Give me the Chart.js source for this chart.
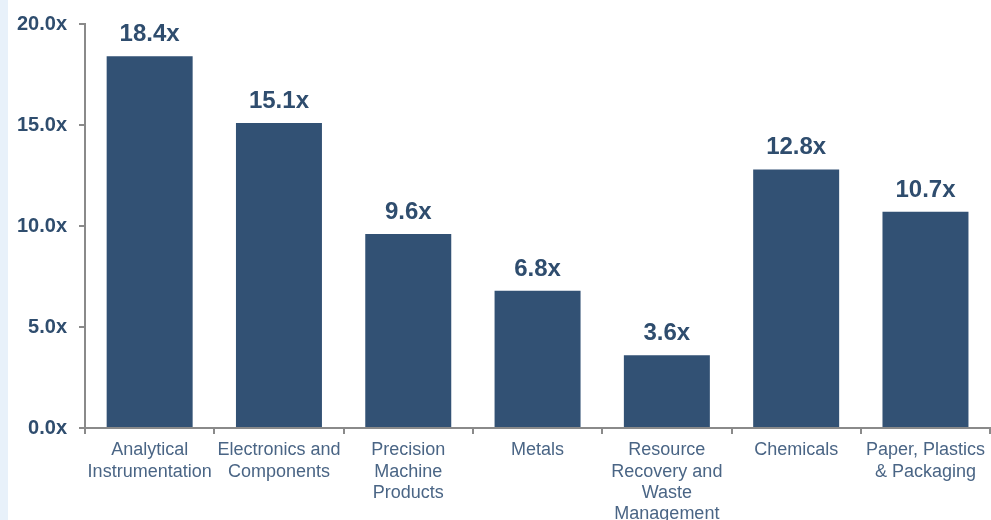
<!DOCTYPE html>
<html>
<head>
<meta charset="utf-8">
<script src="https://cdn.jsdelivr.net/npm/chart.js@4.4.0/dist/chart.umd.min.js"></script>
<style>
  html, body { margin: 0; padding: 0; background: #fff; }
  #wrap { position: relative; width: 991px; height: 520px; }
  #strip { position: absolute; left: 0; top: 0; width: 8px; height: 520px; background: #e8f1fa; }
  canvas { position: absolute; left: 0; top: 0; }
</style>
</head>
<body>
<div id="wrap">
  <div id="strip"></div>
  <canvas id="chart" width="991" height="520"></canvas>
</div>
<script>
// sector multiples
const categories = [
  ["Analytical", "Instrumentation"],
  ["Electronics and", "Components"],
  ["Precision", "Machine", "Products"],
  ["Metals"],
  ["Resource", "Recovery and", "Waste", "Management"],
  ["Chemicals"],
  ["Paper, Plastics", "& Packaging"]
];
const multiples = [18.4, 15.1, 9.6, 6.8, 3.6, 12.8, 10.7];
const yTicks = [0, 5, 10, 15, 20];

const barColor = "#325174";
const labelColor = "#2f4d6e";
const axisColor = "#8a8a8a";

// draws the "18.4x" labels above each bar
const valueLabels = {
  id: "valueLabels",
  afterDatasetsDraw(chart) {
    const ctx = chart.ctx;
    const meta = chart.getDatasetMeta(0);
    ctx.save();
    ctx.font = "bold 24px 'Liberation Sans', Arial, sans-serif";
    ctx.fillStyle = labelColor;
    ctx.textAlign = "center";
    ctx.textBaseline = "alphabetic";
    meta.data.forEach((bar, i) => {
      ctx.fillText(multiples[i].toFixed(1) + "x", bar.x, bar.y - 15);
    });
    ctx.restore();
  }
};

new Chart(document.getElementById("chart"), {
  type: "bar",
  data: {
    labels: categories,
    datasets: [{
      data: multiples,
      backgroundColor: barColor,
      barPercentage: 0.665,
      categoryPercentage: 1.0
    }]
  },
  options: {
    responsive: false,
    animation: false,
    layout: { padding: { top: 24, right: 0, left: 0, bottom: 0 } },
    plugins: { legend: { display: false }, tooltip: { enabled: false } },
    scales: {
      x: {
        grid: { drawOnChartArea: false, color: axisColor, tickLength: 6, lineWidth: 2 },
        border: { color: axisColor, width: 2 },
        ticks: {
          autoSkip: false, maxRotation: 0, minRotation: 0, padding: 6,
          color: "#4a6585",
          font: { family: "'Liberation Sans', Arial, sans-serif", size: 18, lineHeight: 1.17 }
        },
        afterFit(scale) { scale.height = 92; }
      },
      y: {
        min: 0, max: 20,
        afterBuildTicks(scale) { scale.ticks = yTicks.map(v => ({ value: v })); },
        grid: { drawOnChartArea: false, color: axisColor, tickLength: 6, lineWidth: 2 },
        border: { color: axisColor, width: 2 },
        ticks: {
          padding: 12,
          color: labelColor,
          font: { family: "'Liberation Sans', Arial, sans-serif", size: 20, weight: "bold" },
          callback: v => v.toFixed(1) + "x"
        },
        afterFit(scale) { scale.width = 85; }
      }
    }
  },
  plugins: [valueLabels]
});
</script>
</body>
</html>
